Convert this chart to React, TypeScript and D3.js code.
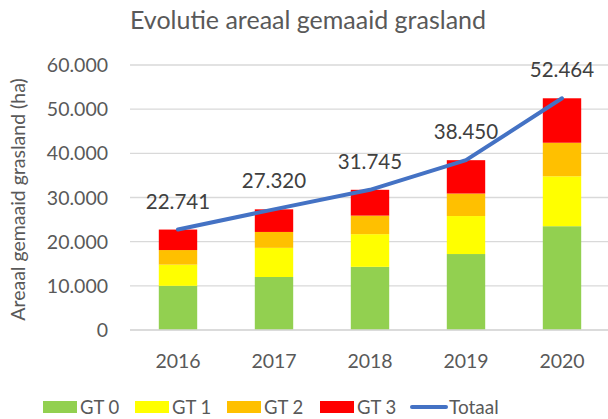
import React from "react"
import * as d3 from "d3"

// chart values
const years = ["2016", "2017", "2018", "2019", "2020"]
const gt0 = [10000, 12000, 14300, 17200, 23500]
const gt1 = [4800, 6600, 7400, 8600, 11300]
const gt2 = [3300, 3600, 4200, 5100, 7600]
const gt3 = [4641, 5120, 5845, 7550, 10064]
const totaal = [22741, 27320, 31745, 38450, 52464]
const yTicks = [0, 10000, 20000, 30000, 40000, 50000, 60000]

const seriesNames = ["GT 0", "GT 1", "GT 2", "GT 3"]
const seriesColors = ["#92D050", "#FFFF00", "#FFC000", "#FF0000"]
const lineColor = "#4472C4"
const textColor = "#595959"
const font = "Lato, 'Open Sans', sans-serif"

const width = 608
const height = 419
const margin = { top: 65, right: 0, bottom: 89, left: 130 }

const fmt = (v: number) => v.toLocaleString("de-DE")

const App = () => {
	const x = d3
		.scaleBand()
		.domain(years)
		.range([margin.left, margin.left + 96 * 5])
		.paddingInner(0.6)
		.paddingOuter(0.3)

	const y = d3
		.scaleLinear()
		.domain([0, 60000])
		.range([height - margin.bottom, margin.top])

	const rows = years.map((yr, i) => ({
		year: yr,
		"GT 0": gt0[i],
		"GT 1": gt1[i],
		"GT 2": gt2[i],
		"GT 3": gt3[i],
	}))
	const stacked = d3.stack<any>().keys(seriesNames)(rows)

	const cx = (yr: string) => (x(yr) as number) + x.bandwidth() / 2
	const line = d3
		.line<number>()
		.x((_, i) => cx(years[i]))
		.y(d => y(d))

	// legend layout
	const legendItems = [
		{ name: "GT 0", x: 43 },
		{ name: "GT 1", x: 135 },
		{ name: "GT 2", x: 227 },
		{ name: "GT 3", x: 320 },
	]

	return (
		<svg
			width={width}
			height={height}
			style={{ position: "absolute", left: 0, top: 0, background: "#fff" }}
		>
			<text x={130} y={29} fontFamily={font} fontSize={25} fill={textColor}>
				Evolutie areaal gemaaid grasland
			</text>

			{/* gridlines + y ticks */}
			{yTicks.map(t => (
				<g key={t}>
					<line
						x1={margin.left}
						x2={width}
						y1={y(t)}
						y2={y(t)}
						stroke="#D9D9D9"
						strokeWidth={1.3}
					/>
					<text
						x={108}
						y={y(t)}
						dy="0.36em"
						textAnchor="end"
						fontFamily={font}
						fontSize={19.5}
						fill={textColor}
					>
						{t === 0 ? "0" : fmt(t)}
					</text>
				</g>
			))}

			<text
				transform={`translate(25, ${y(30000) + 2}) rotate(-90)`}
				textAnchor="middle"
				fontFamily={font}
				fontSize={19.5}
				fill={textColor}
			>
				Areaal gemaaid grasland (ha)
			</text>

			{/* stacked bars */}
			{stacked.map((s, si) => (
				<g key={s.key} fill={seriesColors[si]}>
					{s.map((d, i) => (
						<rect
							key={i}
							x={x(years[i])}
							y={y(d[1])}
							width={x.bandwidth()}
							height={y(d[0]) - y(d[1])}
						/>
					))}
				</g>
			))}

			{/* x axis */}
			<line
				x1={margin.left}
				x2={width}
				y1={y(0)}
				y2={y(0)}
				stroke="#D9D9D9"
				strokeWidth={1.3}
			/>
			{years.map(yr => (
				<text
					key={yr}
					x={cx(yr)}
					y={368}
					textAnchor="middle"
					fontFamily={font}
					fontSize={19.5}
					fill={textColor}
				>
					{yr}
				</text>
			))}

			{/* total line */}
			<path
				d={line(totaal) || ""}
				fill="none"
				stroke={lineColor}
				strokeWidth={4}
				strokeLinecap="round"
				strokeLinejoin="round"
			/>
			{totaal.map((v, i) => (
				<text
					key={i}
					x={cx(years[i])}
					y={y(v) - 21}
					textAnchor="middle"
					fontFamily={font}
					fontSize={20.5}
					fill="#404040"
				>
					{fmt(v)}
				</text>
			))}

			{/* legend */}
			{legendItems.map((it, i) => (
				<g key={it.name}>
					<rect x={it.x} y={401} width={34} height={12} fill={seriesColors[i]} />
					<text
						x={it.x + 37}
						y={407}
						dy="0.36em"
						fontFamily={font}
						fontSize={18.5}
						fill={textColor}
					>
						{it.name}
					</text>
				</g>
			))}
			<line
				x1={412}
				x2={446}
				y1={407}
				y2={407}
				stroke={lineColor}
				strokeWidth={4}
				strokeLinecap="round"
			/>
			<text
				x={449}
				y={407}
				dy="0.36em"
				fontFamily={font}
				fontSize={19}
				fill={textColor}
			>
				Totaal
			</text>
		</svg>
	)
}

export default App
